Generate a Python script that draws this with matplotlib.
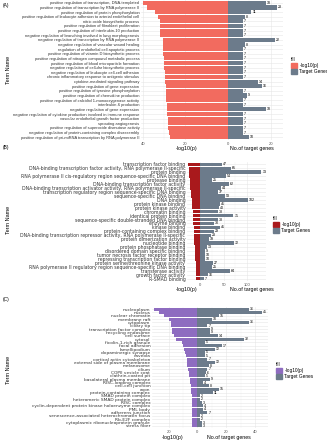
import numpy as np
import matplotlib
matplotlib.use("Agg")
import matplotlib.pyplot as plt
from matplotlib.patches import Patch

plt.rcParams['font.family'] = ['Liberation Sans', 'DejaVu Sans']

# ---- (A) biological process ----
terms_a = [
    "positive regulation of transcription, DNA-templated",
    "positive regulation of transcription by RNA polymerase II",
    "positive regulation of protein phosphorylation",
    "positive regulation of leukocyte adhesion to arterial endothelial cell",
    "nitric oxide biosynthetic process",
    "positive regulation of fibroblast proliferation",
    "positive regulation of interleukin-10 production",
    "negative regulation of branching involved in lung morphogenesis",
    "negative regulation of transcription by RNA polymerase II",
    "negative regulation of vascular wound healing",
    "regulation of endothelial cell apoptotic process",
    "positive regulation of vitamin D biosynthetic process",
    "positive regulation of nitrogen compound metabolic process",
    "positive regulation of blood microparticle formation",
    "negative regulation of cellular biosynthetic process",
    "negative regulation of leukocyte cell-cell adhesion",
    "chronic inflammatory response to antigenic stimulus",
    "cytokine-mediated signaling pathway",
    "positive regulation of gene expression",
    "positive regulation of tyrosine phosphorylation",
    "positive regulation of chemokine production",
    "positive regulation of calcidiol 1-monooxygenase activity",
    "interleukin-6 production",
    "negative regulation of gene expression",
    "negative regulation of cytokine production involved in immune response",
    "vascular endothelial growth factor production",
    "sprouting angiogenesis",
    "positive regulation of superoxide dismutase activity",
    "negative regulation of protein-containing complex disassembly",
    "positive regulation of pri-miRNA transcription by RNA polymerase II",
]
logp_a = [40, 38, 34, 33, 32, 32, 32, 32, 30.5, 30.5, 30.5, 30.5, 30, 30, 30,
          29.5, 29.5, 29.5, 29, 29, 29, 29, 28.5, 28.5, 28.5, 28, 28, 28, 27.5, 27]
genes_a = [18, 23, 11, 8, 7, 7, 7, 7, 22, 8, 7, 7, 7, 7, 7, 7, 7, 14, 16, 7,
           9, 7, 7, 18, 7, 7, 7, 7, 7, 10]

# ---- (B) molecular function ----
terms_b = [
    "transcription factor binding",
    "DNA-binding transcription factor activity, RNA polymerase II-specific",
    "protein binding",
    "RNA polymerase II cis-regulatory region sequence-specific DNA binding",
    "protease binding",
    "DNA-binding transcription factor activity",
    "DNA-binding transcription activator activity, RNA polymerase II-specific",
    "transcription regulatory region sequence-specific DNA binding",
    "sequence-specific DNA binding",
    "DNA binding",
    "protein kinase binding",
    "protein kinase activity",
    "chromatin binding",
    "identical protein binding",
    "sequence-specific double-stranded DNA binding",
    "enzyme binding",
    "kinase binding",
    "protein-containing complex binding",
    "DNA-binding transcription repressor activity, RNA polymerase II-specific",
    "protein dimerization activity",
    "nucleotide binding",
    "protein phosphatase binding",
    "disordered domain specific binding",
    "tumor necrosis factor receptor binding",
    "repressing transcription factor binding",
    "protein serine/threonine kinase activity",
    "RNA polymerase II regulatory region sequence-specific DNA binding",
    "transferase activity",
    "growth factor activity",
    "R-SMAD binding",
]
logp_b = [26, 25, 24.5, 24, 23, 22, 21.5, 21, 20.5, 19, 18, 17.5, 17, 16.5, 16,
          15.5, 15, 14.5, 14, 13.5, 13, 12.5, 12, 11.5, 11, 10.5, 10, 10, 9.5, 9]
genes_b = [47, 65, 131, 54, 25, 62, 44, 37, 53, 102, 41, 40, 38, 71, 38, 30, 41,
           29, 23, 19, 72, 13, 9, 10, 10, 27, 25, 64, 16, 7]

# ---- (C) cellular component ----
terms_c = [
    "nucleoplasm", "nucleus", "nuclear chromatin", "membrane raft", "cytoplasm",
    "ciliary tip", "transcription factor complex", "recycling endosome",
    "cell surface", "cytosol", "ficolin-1-rich granule", "focal adhesion",
    "lamellipodium", "dopaminergic synapse", "caveola",
    "cortical actin cytoskeleton", "external side of plasma membrane",
    "melanosome", "cilium", "COPII vesicle coat", "clathrin-coated pit",
    "basolateral plasma membrane", "RISC-loading complex", "cell-cell junction",
    "axon", "protein-containing complex", "SMAD protein complex",
    "heteromeric SMAD protein complex", "RISC complex",
    "cyclin-dependent protein kinase holoenzyme complex", "PML body",
    "adherens junction", "senescence-associated heterochromatin focus",
    "Rb-E2F complex", "cytoplasmic ribonucleoprotein granule", "stress fiber",
]
logp_c = [30, 26.5, 23, 19.7, 18.6, 18.1, 17.9, 17.4, 16.3, 14.7, 10.7, 10, 9.5,
          8.4, 7.9, 7.5, 7.3, 7, 6.6, 6.1, 5.7, 5.4, 5, 4.5, 4.5, 4.3, 4, 4, 4,
          3.9, 3.9, 3.9, 3.8, 3.8, 3.8, 3.8]
genes_c = [36, 45, 15, 10, 36, 7, 9, 9, 14, 32, 5, 17, 12, 5, 5, 7, 12, 8, 7, 6,
           5, 9, 4, 8, 15, 11, 2, 2, 3, 4, 4, 7, 2, 2, 3, 3]

W, H = 327, 440
fig = plt.figure(figsize=(W / 100, H / 100), dpi=100)
gene_col = "#6C7B8B"


def add_ax(x0, y0, x1, y1):
    return fig.add_axes([x0 / W, 1 - y1 / H, (x1 - x0) / W, (y1 - y0) / H])


def panel(box, terms, logp, genes, col, xlim, ticks, fs, fam, nfs, off, tag,
          tagy, title_y, title_x, leg_xy, ylab_y):
    ax = add_ax(*box)
    n = len(terms)
    y = np.arange(n)
    ax.barh(y, -np.array(logp), height=0.9, color=col, zorder=2)
    ax.barh(y, genes, height=0.9, color=gene_col, zorder=2)
    for yi, g in zip(y, genes):
        ax.text(g + off, yi, str(g), fontsize=nfs, va="center", ha="left",
                clip_on=True, zorder=3)
    ax.set_xlim(*xlim)
    ax.set_ylim(n - 0.4, -0.6)
    ax.set_yticks(y)
    ax.set_yticklabels(terms, fontsize=fs, color="#333333", family=fam)
    ax.set_xticks(ticks)
    ax.set_xticklabels([str(abs(t)) for t in ticks], fontsize=3.0, color="#555555")
    mids = [(a + b) / 2 for a, b in zip(ticks[:-1], ticks[1:])]
    ax.set_xticks(mids, minor=True)
    ax.tick_params(length=0, pad=1.2, which="both")
    ax.grid(True, which="major", color="#e6e6e6", lw=0.4, zorder=0)
    ax.grid(True, which="minor", axis="x", color="#f2f2f2", lw=0.3, zorder=0)
    for s in ax.spines.values():
        s.set_visible(False)
    fig.text(title_x[0] / W, 1 - title_y / H, "-log10(p)", fontsize=3.8,
             ha="center", va="center")
    fig.text(title_x[1] / W, 1 - title_y / H, "No.of target genes", fontsize=3.8,
             ha="center", va="center")
    fig.text(3 / W, 1 - tagy / H, tag, fontsize=3.5, ha="left", va="center")
    fig.text(9 / W, 1 - ylab_y / H, "Term Name", fontsize=4, rotation=90,
             ha="center", va="center")
    handles = [Patch(color=col, label="-log10(p)"),
               Patch(color=gene_col, label="Target Genes")]
    leg = fig.legend(handles=handles, title="fill", loc="upper left",
                     bbox_to_anchor=(leg_xy[0] / W, 1 - leg_xy[1] / H),
                     fontsize=3.4, title_fontsize=3.4, frameon=False,
                     handlelength=1.2, handleheight=1.2, handletextpad=0.5,
                     labelspacing=0.15, borderpad=0)
    leg._legend_box.align = "left"
    return ax


panel((141, 0, 283, 140), terms_a, logp_a, genes_a, "#F26B5F",
      (-40.8, 25.8), [-40, -20, 0, 20], 2.85, ['Liberation Sans'], 2.6, 0.4,
      "(A)", 5, 148, (187, 252), (289, 55), 70)
panel((187, 162, 266, 281), terms_b, logp_b, genes_b, "#A9191C",
      (-29, 141), [0, 50, 100], 3.3, ['DejaVu Sans'], 2.6, 2.0,
      "(B)", 147, 289, (187, 252), (271, 214), 220)
panel((152, 307, 268, 428), terms_c, logp_c, genes_c, "#8E6CC0",
      (-31.5, 49), [-20, 0, 20, 40], 3.2, ['DejaVu Sans'], 2.5, 0.6,
      "(C)", 300, 437, (173, 229), (274, 360), 370)

fig.savefig("out.png", dpi=100)
